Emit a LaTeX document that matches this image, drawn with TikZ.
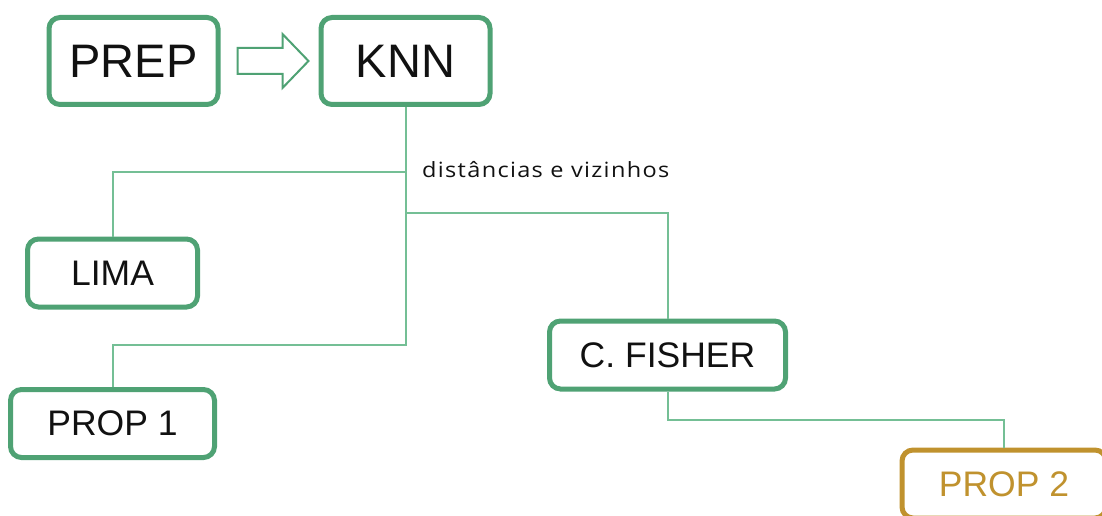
\documentclass[tikz,border=0pt]{standalone}
\usepackage{fontspec}
\setmainfont{Liberation Sans}
\newfontfamily\labelfont[FakeStretch=1.12, LetterSpace=6.3]{Open Sans}
\usetikzlibrary{calc}
\definecolor{boxgreen}{HTML}{4FA274}
\definecolor{linkgreen}{HTML}{74BF95}
\definecolor{gold}{HTML}{C0922E}
\definecolor{ink}{HTML}{111111}
\tikzset{
  stagebox/.style={draw=boxgreen, line width=5pt, rounded corners=11pt,
    fill=white, text=ink, inner sep=0pt},
  bigbox/.style={stagebox, minimum width=169pt, minimum height=87pt,
    font=\fontsize{47}{50}\selectfont},
  smallbox/.style={stagebox, minimum height=68pt,
    font=\fontsize{35.5}{38}\selectfont},
  goldbox/.style={smallbox, draw=gold, text=gold},
  link/.style={draw=linkgreen, line width=2pt},
  hollowarrow/.style={draw=boxgreen, line width=2pt, fill=white}
}
\begin{document}
\begin{tikzpicture}[x=1pt, y=-1pt]
  \useasboundingbox (0,0) rectangle (1102,516);

  % pipeline head
  \node[bigbox] (prep) at (133.5,61) {PREP};
  \node[bigbox] (knn)  at (405.5,61) {KNN};

  % branches
  \node[smallbox, minimum width=170pt] (lima)   at (112.5,273)   {LIMA};
  \node[smallbox, minimum width=204pt] (prop1)  at (112.5,423.5) {PROP 1};
  \node[smallbox, minimum width=236pt] (fisher) at (667.5,355)   {C. FISHER};
  \node[goldbox,  minimum width=204pt] (prop2)  at (1004,484)    {PROP 2};

  % hollow arrow from PREP to KNN
  \draw[hollowarrow]
    ($(prep.east)+(17,-13)$) -- ($(prep.east)+(62,-13)$) --
    ($(prep.east)+(62,-27)$) -- ($(knn.west)+(-10,0)$) --
    ($(prep.east)+(62,27)$) -- ($(prep.east)+(62,13)$) --
    ($(prep.east)+(17,13)$) -- cycle;

  % tree connectors
  \coordinate (jlima)   at (knn.south |- 0,172);
  \coordinate (jfisher) at (knn.south |- 0,213);
  \coordinate (jprop)   at (knn.south |- 0,345);
  \coordinate (jprop2)  at (fisher.south |- 0,420);

  \path[link] (knn.south) -- (jprop) -| (prop1.north);
  \path[link] (jlima) -| (lima.north);
  \path[link] (jfisher) -| (fisher.north);
  \path[link] (fisher.south) -- (jprop2) -| (prop2.north);

  \node[anchor=base west, inner sep=0pt, text=ink,
        font=\labelfont\fontsize{21}{24}\selectfont] (lbl) at (422,177)
        {distâncias e vizinhos};
\end{tikzpicture}
\end{document}
